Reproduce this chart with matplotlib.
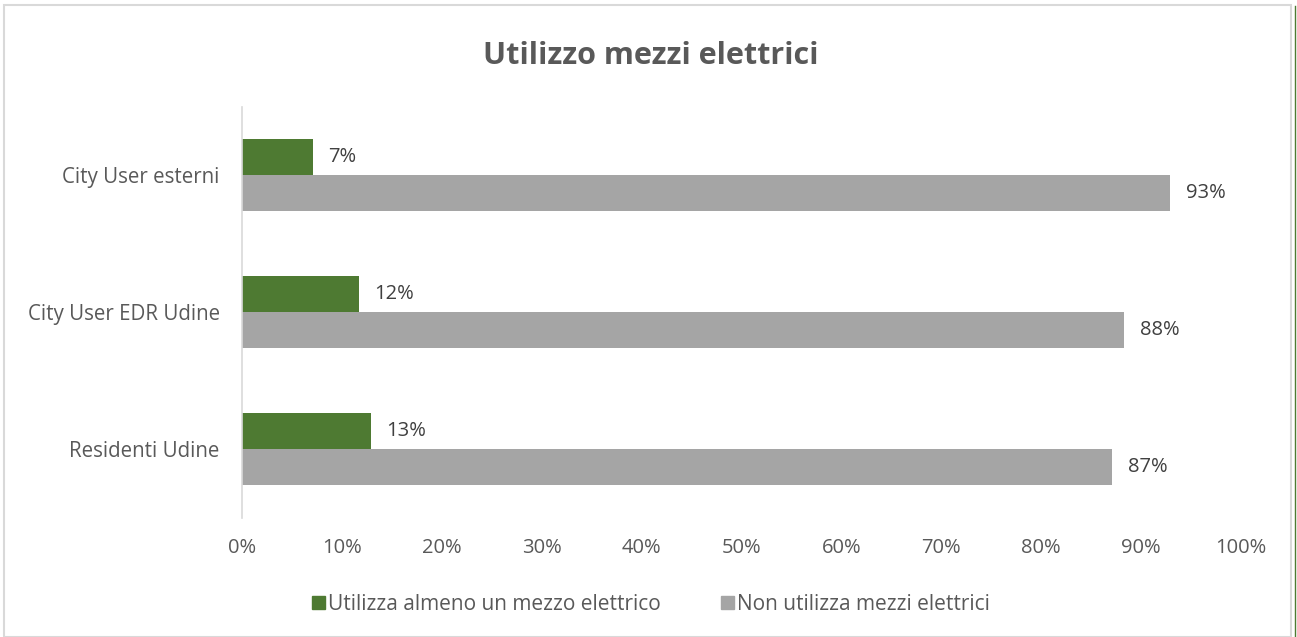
import matplotlib
matplotlib.use("Agg")
import matplotlib.pyplot as plt
from matplotlib.patches import Rectangle
from matplotlib.lines import Line2D
import numpy as np

categories = ["Residenti Udine", "City User EDR Udine", "City User esterni"]
uses_electric = [12.9, 11.7, 7.1]
no_electric = [87.1, 88.3, 92.9]
uses_labels = ["13%", "12%", "7%"]
no_labels = ["87%", "88%", "93%"]
series_names = ["Utilizza almeno un mezzo elettrico", "Non utilizza mezzi elettrici"]
xticks = [0, 10, 20, 30, 40, 50, 60, 70, 80, 90, 100]

GREEN = "#4e7a32"
GREY = "#a5a5a5"
TXT = "#595959"
LBL = "#404040"
FONT = ["Open Sans", "DejaVu Sans"]
plt.rcParams["font.family"] = FONT

fig = plt.figure(figsize=(12.97, 6.37), dpi=100)
ax = fig.add_axes([242/1297, 1-517.5/637, (1241-242)/1297, (517.5-106.5)/637])

y = np.arange(len(categories))
h = 0.263
ax.barh(y + h/2, uses_electric, height=h, color=GREEN, label=series_names[0])
ax.barh(y - h/2, no_electric, height=h, color=GREY, label=series_names[1])

for i in range(len(categories)):
    ax.text(uses_electric[i] + 1.55, y[i] + h/2, uses_labels[i], va="center", ha="left",
            fontsize=14.5, color=LBL)
    ax.text(no_electric[i] + 1.55, y[i] - h/2, no_labels[i], va="center", ha="left",
            fontsize=14.5, color=LBL)

ax.set_xlim(0, 100)
ax.set_ylim(-0.5, len(categories) - 0.5)
ax.set_yticks(y)
ax.set_yticklabels(categories, fontsize=14.8, color=TXT)
ax.set_xticks(xticks)
ax.set_xticklabels([f"{t}%" for t in xticks], fontsize=14.5, color=TXT)
ax.tick_params(axis="both", length=0)
ax.tick_params(axis="y", pad=16)
ax.tick_params(axis="x", pad=15)
for s in ["top", "right", "bottom"]:
    ax.spines[s].set_visible(False)
ax.spines["left"].set_color("#d9d9d9")
ax.spines["left"].set_linewidth(1.2)

fig.text(651/1297, 1-55.5/637, "Utilizzo mezzi elettrici", ha="center", va="center",
         fontsize=22, fontweight="bold", color=TXT)

handles = [Rectangle((0, 0), 1, 1, color=GREEN), Rectangle((0, 0), 1, 1, color=GREY)]
fig.legend(handles, series_names, loc="center", bbox_to_anchor=(651/1297, 1-604/637),
           ncol=2, frameon=False, fontsize=15, handlelength=0.6, handleheight=0.6,
           handletextpad=0.15, columnspacing=2.9, labelcolor=TXT)

fig.add_artist(Rectangle((4/1297, 0), (1291-4)/1297, 1-5/637, transform=fig.transFigure,
                         fill=False, edgecolor="#d9d9d9", linewidth=1.5))
fig.add_artist(Line2D([1294.5/1297, 1294.5/1297], [0, 1-6/637], transform=fig.transFigure,
                      color=GREEN, linewidth=1))

fig.savefig("out.png", dpi=100, facecolor="white")
